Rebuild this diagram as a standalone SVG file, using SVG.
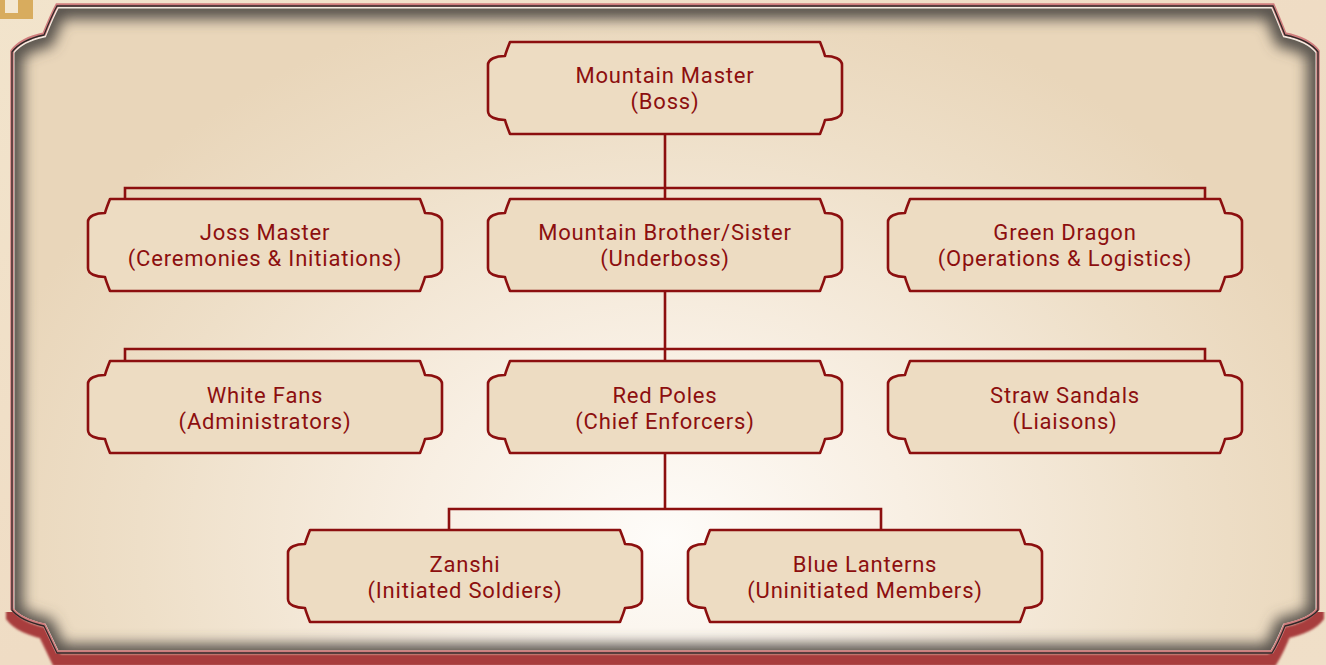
<svg xmlns="http://www.w3.org/2000/svg" xmlns:xlink="http://www.w3.org/1999/xlink" width="1326" height="665" viewBox="0 0 1326 665">
  <style>
    .node-shape { fill: #eddcc2; stroke: #8c0f0f; stroke-width: 2.6; stroke-linejoin: round; }
    .label { font-family: Roboto, "Noto Sans", sans-serif; font-size: 22px; letter-spacing: 0.8px; fill: #8c0f0f; text-anchor: middle; }
    .conn { fill: none; stroke: #8c0f0f; stroke-width: 2.6; stroke-linecap: square; }
  </style>
  <defs>
    <linearGradient id="marble" x1="0" y1="0" x2="1" y2="1">
      <stop offset="0" stop-color="#f2e4cc"/>
      <stop offset="0.5" stop-color="#efdcc4"/>
      <stop offset="1" stop-color="#f0dfc8"/>
    </linearGradient>
    <radialGradient id="panelFill" gradientUnits="userSpaceOnUse" cx="665" cy="540" r="700" gradientTransform="translate(665 540) scale(1 0.8) translate(-665 -540)">
      <stop offset="0" stop-color="#fefcf9"/>
      <stop offset="0.35" stop-color="#f8efe3"/>
      <stop offset="0.75" stop-color="#eedfc8"/>
      <stop offset="1" stop-color="#e9d6ba"/>
    </radialGradient>
    <path id="framePath" d="M57,6 H1273 C1277,15 1281,25 1285,35 C1300,38 1312,44 1318,52 V610 C1312,618 1298,623 1285,626 C1281,636 1277,645 1272,653 H57 C53,645 49,636 44,626 C31,623 18,618 12,610 V52 C18,44 30,38 44,35 C48,25 52,15 57,6 Z"/>
    <clipPath id="frameClip">
      <use xlink:href="#framePath"/>
    </clipPath>
    <clipPath id="bottomClip">
      <rect x="0" y="612" width="1326" height="53"/>
    </clipPath>
    <filter id="shadowBlur" x="-5%" y="-5%" width="110%" height="110%">
      <feGaussianBlur stdDeviation="7"/>
    </filter>
    <filter id="redBlur" x="-5%" y="-5%" width="110%" height="110%">
      <feGaussianBlur stdDeviation="1"/>
    </filter>
    <path id="nodeShape" class="node-shape" d="M22,0 H332 C334,5 336,10 337,14 C346,14 354,17 354,23 V69 C354,75 346,78 337,78 C336,82 334,87 332,92 H22 C20,87 18,82 17,78 C8,78 0,75 0,69 V23 C0,17 8,14 17,14 C18,10 20,5 22,0 Z"/>
  </defs>

  <!-- background -->
  <rect x="0" y="0" width="1326" height="665" fill="url(#marble)"/>
  <g id="corner-badge">
    <rect x="0" y="0" width="33" height="19" fill="#d8ac5e"/>
    <rect x="5" y="0" width="13" height="13" fill="#f4e8d2"/>
  </g>

  <!-- frame -->
  <g id="frame">
    <g clip-path="url(#bottomClip)">
      <use xlink:href="#framePath" transform="translate(0,7)" fill="none" stroke="#a83c3c" stroke-width="12" filter="url(#redBlur)"/>
    </g>
    <use xlink:href="#framePath" fill="url(#panelFill)"/>
    <g clip-path="url(#frameClip)">
      <use xlink:href="#framePath" fill="none" stroke="#57514b" stroke-width="22" filter="url(#shadowBlur)" transform="translate(0,2)"/>
      <use xlink:href="#framePath" fill="none" stroke="#f3ebe0" stroke-width="5"/>
    </g>
    <use xlink:href="#framePath" fill="none" stroke="#cf7d7d" stroke-width="3.5" transform="translate(0,-1)"/>
    <use xlink:href="#framePath" fill="none" stroke="#2f2727" stroke-width="1.3"/>
  </g>

  <!-- connectors -->
  <g id="connectors">
    <path class="conn" d="M665,134 V199 M125,199 V188 H1205 V199"/>
    <path class="conn" d="M665,291 V361 M125,361 V349 H1205 V361"/>
    <path class="conn" d="M665,453 V509 M449,530 V509 H881 V530"/>
  </g>

  <!-- nodes -->
  <g id="mountain-master">
    <use xlink:href="#nodeShape" x="488" y="42"/>
    <text class="label" x="665" y="83">Mountain Master<tspan x="665" dy="26">(Boss)</tspan></text>
  </g>
  <g id="joss-master">
    <use xlink:href="#nodeShape" x="88" y="199"/>
    <text class="label" x="265" y="240">Joss Master<tspan x="265" dy="26">(Ceremonies &amp; Initiations)</tspan></text>
  </g>
  <g id="mountain-brother-sister">
    <use xlink:href="#nodeShape" x="488" y="199"/>
    <text class="label" x="665" y="240">Mountain Brother/Sister<tspan x="665" dy="26">(Underboss)</tspan></text>
  </g>
  <g id="green-dragon">
    <use xlink:href="#nodeShape" x="888" y="199"/>
    <text class="label" x="1065" y="240">Green Dragon<tspan x="1065" dy="26">(Operations &amp; Logistics)</tspan></text>
  </g>
  <g id="white-fans">
    <use xlink:href="#nodeShape" x="88" y="361"/>
    <text class="label" x="265" y="403">White Fans<tspan x="265" dy="26">(Administrators)</tspan></text>
  </g>
  <g id="red-poles">
    <use xlink:href="#nodeShape" x="488" y="361"/>
    <text class="label" x="665" y="403">Red Poles<tspan x="665" dy="26">(Chief Enforcers)</tspan></text>
  </g>
  <g id="straw-sandals">
    <use xlink:href="#nodeShape" x="888" y="361"/>
    <text class="label" x="1065" y="403">Straw Sandals<tspan x="1065" dy="26">(Liaisons)</tspan></text>
  </g>
  <g id="zanshi">
    <use xlink:href="#nodeShape" x="288" y="530"/>
    <text class="label" x="465" y="572">Zanshi<tspan x="465" dy="26">(Initiated Soldiers)</tspan></text>
  </g>
  <g id="blue-lanterns">
    <use xlink:href="#nodeShape" x="688" y="530"/>
    <text class="label" x="865" y="572">Blue Lanterns<tspan x="865" dy="26">(Uninitiated Members)</tspan></text>
  </g>
</svg>
